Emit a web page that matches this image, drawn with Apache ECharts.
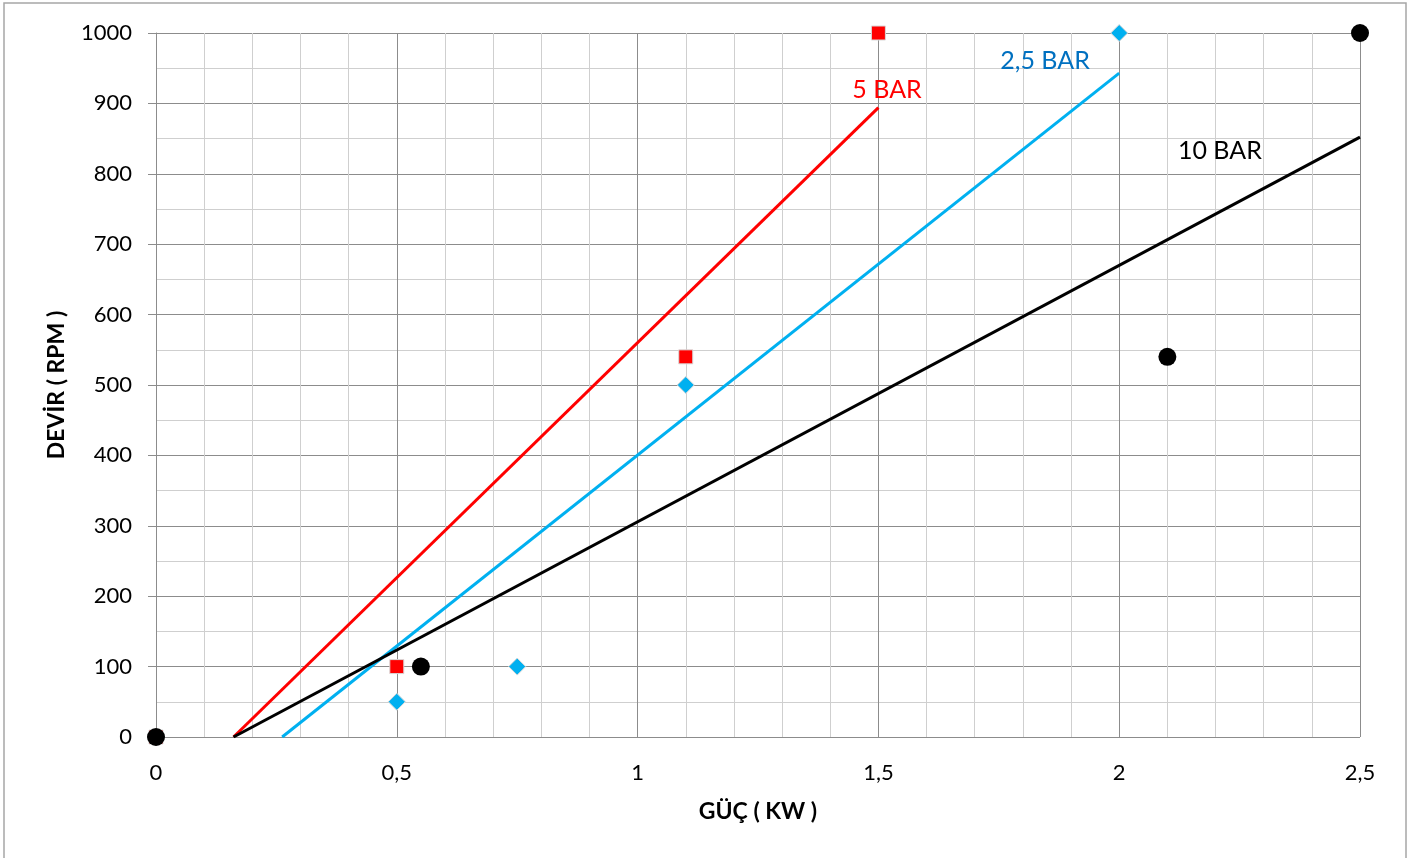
<!DOCTYPE html>
<html>
<head>
<meta charset="utf-8">
<script src="https://cdn.jsdelivr.net/npm/echarts@6/dist/echarts.min.js"></script>
<style>
html,body{margin:0;padding:0;background:#fff;}
#chart{width:1421px;height:858px;}
</style>
</head>
<body>
<div id="chart"></div>
<script>
// Data
const bar5Points = [[0, 0], [0.5, 100], [1.1, 540], [1.5, 1000]];
const bar25Points = [[0, 0], [0.5, 50], [0.75, 100], [1.1, 500], [2, 1000]];
const bar10Points = [[0, 0], [0.55, 100], [2.1, 540], [2.5, 1000]];
// Linear trend lines (end points)
const bar5Trend = [[0.161, 0], [1.5, 894]];
const bar25Trend = [[0.262, 0], [2, 943]];
const bar10Trend = [[0.161, 0], [2.5, 852]];
const seriesNames = ['5 BAR', '2,5 BAR', '10 BAR'];
const xAxisTitle = 'GÜÇ ( KW )';
const yAxisTitle = 'DEVİR ( RPM )';

const FONT = 'Lato, "Open Sans", sans-serif';
const chart = echarts.init(document.getElementById('chart'), null, {renderer: 'canvas'});

function trend(name, data, color, labelCoord, labelColor) {
  return {
    name: name + ' trend', type: 'line', data: data, symbol: 'none', silent: true,
    lineStyle: {color: color, width: 3}, z: 3, animation: false,
    markPoint: {
      symbol: 'rect', symbolSize: 1, itemStyle: {color: 'rgba(0,0,0,0)'},
      label: {show: true, formatter: name, color: labelColor, fontFamily: FONT, fontSize: 25, position: 'inside'},
      data: [{coord: labelCoord}]
    }
  };
}

chart.setOption({
  animation: false,
  backgroundColor: '#fff',
  graphic: [{type: 'rect', shape: {x: 4, y: 3, width: 1402, height: 870}, style: {fill: 'none', stroke: '#a6a6a6', lineWidth: 1.5}, silent: true}],
  grid: {left: 156, right: 61, top: 33, bottom: 121},
  xAxis: {
    type: 'value', min: 0, max: 2.5, interval: 0.5,
    name: xAxisTitle, nameLocation: 'middle', nameGap: 63,
    nameTextStyle: {fontFamily: FONT, fontWeight: 'bold', fontSize: 23, color: '#000'},
    axisLine: {show: false}, axisTick: {show: false},
    axisLabel: {formatter: v => String(v).replace('.', ','), fontFamily: FONT, fontSize: 22, color: '#000', margin: 25},
    splitLine: {show: true, lineStyle: {color: '#8c8c8c', width: 1}},
    minorTick: {show: false, splitNumber: 5},
    minorSplitLine: {show: true, lineStyle: {color: '#cfcfcf', width: 1}}
  },
  yAxis: {
    type: 'value', min: 0, max: 1000, interval: 100,
    name: yAxisTitle, nameLocation: 'middle', nameGap: 88,
    nameTextStyle: {fontFamily: FONT, fontWeight: 'bold', fontSize: 23, color: '#000'},
    axisLine: {show: true, lineStyle: {color: '#8c8c8c'}},
    axisTick: {show: true, length: 8, inside: false, lineStyle: {color: '#8c8c8c'}},
    axisLabel: {formatter: v => String(v), fontFamily: FONT, fontSize: 22, color: '#000', margin: 24},
    splitLine: {show: true, lineStyle: {color: '#8c8c8c', width: 1}},
    minorTick: {show: false, splitNumber: 2},
    minorSplitLine: {show: true, lineStyle: {color: '#cfcfcf', width: 1}}
  },
  series: [
    trend(seriesNames[0], bar5Trend, '#ff0000', [1.518, 919], '#ff0000'),
    trend(seriesNames[1], bar25Trend, '#00b0f0', [1.846, 960], '#0070c0'),
    trend(seriesNames[2], bar10Trend, '#000000', [2.209, 832], '#000000'),
    {name: seriesNames[1], type: 'scatter', data: bar25Points, symbol: 'diamond', symbolSize: 17,
     itemStyle: {color: '#00b0f0', borderColor: '#d9d9d9', borderWidth: 1, opacity: 1}, z: 4},
    {name: seriesNames[0], type: 'scatter', data: bar5Points, symbol: 'rect', symbolSize: 14,
     itemStyle: {color: '#ff0000', borderColor: '#d9d9d9', borderWidth: 1, opacity: 1}, z: 5},
    {name: seriesNames[2], type: 'scatter', data: bar10Points, symbol: 'circle', symbolSize: 18,
     itemStyle: {color: '#000000', opacity: 1}, z: 6}
  ]
});
</script>
</body>
</html>
